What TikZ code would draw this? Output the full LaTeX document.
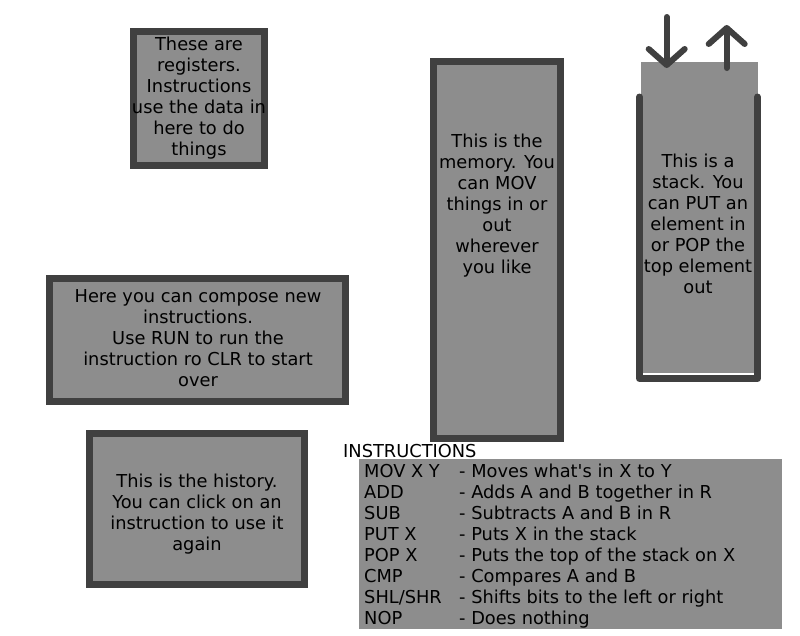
\documentclass[tikz,border=0pt]{standalone}
\usepackage{fontspec}
\setmainfont{DejaVu Sans}
\usetikzlibrary{arrows.meta}
\definecolor{boxgray}{RGB}{141,141,141}
\definecolor{edgegray}{RGB}{64,64,64}
\newcommand{\straightquote}{\XeTeXglyph\XeTeXcharglyph"27\relax}

\begin{document}
\begin{tikzpicture}[x=1pt, y=-1pt,
    box/.style = {draw=edgegray, line width=7pt, fill=boxgray, inner sep=0pt},
    txt/.style = {align=center, inner sep=0pt, font=\fontsize{17.8}{21}\selectfont},
    wall/.style = {draw=edgegray, line width=7pt, line cap=round, line join=round},
    arr/.style = {draw=edgegray, line width=6pt, line cap=round,
                  -{Straight Barb[length=16pt, width=36pt, round]}}]
    \useasboundingbox (0,0) rectangle (800,635);

    \node[box, minimum width=131pt, minimum height=134pt] (regs) at (199,98.5) {};
    \node[txt] (regstext) at (199,98) {These are\\registers.\\Instructions\\use the data in\\here to do\\things};

    \node[box, minimum width=127pt, minimum height=377pt] (mem) at (497,250) {};
    \node[txt] (memtext) at (497,206) {This is the\\memory. You\\can MOV\\things in or\\out\\wherever\\you like};

    \node[fill=boxgray, minimum width=117pt, minimum height=311pt, inner sep=0pt] (stack) at (699.5,217.5) {};
    \draw[wall] (639.5,97) -- (639.5,378.5) -- (757.5,378.5) -- (757.5,97);
    \node[txt] (stacktext) at (698,224) {This is a\\stack. You\\can PUT an\\element in\\or POP the\\top element\\out};
    \coordinate (pushtop) at (666.7,17);
    \coordinate (pushend) at (666.7,68);
    \coordinate (popstart) at (726.7,68);
    \coordinate (popend) at (726.7,25);
    \draw[arr] (pushtop) -- (pushend);
    \draw[arr] (popstart) -- (popend);

    \node[box, minimum width=296pt, minimum height=123pt] (compose) at (197.5,340) {};
    \node[txt] (composetext) at (198,338) {Here you can compose new\\instructions.\\Use RUN to run the\\instruction ro CLR to start\\over};

    \node[box, minimum width=215pt, minimum height=151pt] (hist) at (197,509) {};
    \node[txt] (histtext) at (197,514) {This is the history.\\You can click on an\\instruction to use it\\again};

    \node[txt, anchor=base west] (instrlabel) at (343,457) {INSTRUCTIONS};
    \node[fill=boxgray, minimum width=423pt, minimum height=170pt, inner sep=0pt, anchor=north west] (instrbox) at (359,459) {};
    \node[anchor=north west, inner sep=0pt, font=\fontsize{17.8}{21}\selectfont] (instrlist) at (364,463) {%
        \begin{tabular}{@{}p{95pt}@{}l@{}}
        MOV X Y & - Moves what\straightquote s in X to Y\\
        ADD & - Adds A and B together in R\\
        SUB & - Subtracts A and B in R\\
        PUT X & - Puts X in the stack\\
        POP X & - Puts the top of the stack on X\\
        CMP & - Compares A and B\\
        SHL/SHR & - Shifts bits to the left or right\\
        NOP & - Does nothing
        \end{tabular}};
\end{tikzpicture}
\end{document}
